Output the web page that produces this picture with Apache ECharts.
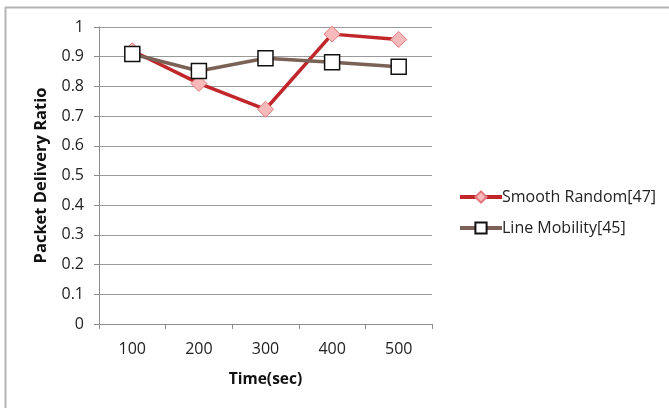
<!DOCTYPE html>
<html><head><meta charset="utf-8">
<script src="https://cdn.jsdelivr.net/npm/echarts@6/dist/echarts.min.js"></script>
<style>html,body{margin:0;padding:0;background:#fff}#c{width:669px;height:408px}</style>
</head><body><div id="c"></div>
<script>
const categories = ['100','200','300','400','500'];
const smoothRandom = [0.92, 0.81, 0.723, 0.976, 0.958];
const lineMobility = [0.909, 0.852, 0.895, 0.881, 0.866];
const seriesNames = ['Smooth Random[47]', 'Line Mobility[45]'];

const chart = echarts.init(document.getElementById('c'));
const font = '"Open Sans", "DejaVu Sans", sans-serif';
chart.setOption({
  animation: false,
  backgroundColor: '#fff',
  grid: {left: 99, right: 237, top: 27, bottom: 84},
  graphic: [
    {type: 'line', shape: {x1: 5, y1: 7.5, x2: 669, y2: 7.5}, style: {stroke: '#b4b4b4', lineWidth: 2}},
    {type: 'line', shape: {x1: 5.5, y1: 7, x2: 5.5, y2: 408}, style: {stroke: '#b4b4b4', lineWidth: 2}}
  ],
  legend: {
    orient: 'vertical', left: 453, top: 184, itemGap: 15, itemWidth: 42, itemHeight: 14,
    textStyle: {fontFamily: font, fontSize: 16, color: '#222', padding: [0,0,0,-5]},
    lineStyle: {width: 4},
    data: seriesNames
  },
  xAxis: {
    type: 'category', data: categories, boundaryGap: true,
    name: 'Time(sec)', nameLocation: 'middle', nameGap: 48,
    nameTextStyle: {fontFamily: font, fontSize: 15.5, fontWeight: 'bold', color: '#111'},
    axisLine: {lineStyle: {color: '#8c8c8c', width: 1}},
    axisTick: {show: true, length: 5, lineStyle: {color: '#8c8c8c'}},
    axisLabel: {fontFamily: font, fontSize: 16, color: '#222', margin: 17}
  },
  yAxis: {
    type: 'value', min: 0, max: 1, interval: 0.1,
    name: 'Packet Delivery Ratio', nameLocation: 'middle', nameGap: 49,
    nameTextStyle: {fontFamily: font, fontSize: 16.5, fontWeight: 'bold', color: '#111'},
    axisLine: {show: true, lineStyle: {color: '#8c8c8c', width: 1}},
    axisTick: {show: true, length: 5, lineStyle: {color: '#8c8c8c'}},
    axisLabel: {fontFamily: font, fontSize: 16, color: '#222', margin: 15,
      formatter: v => String(Math.round(v*10)/10)},
    splitLine: {lineStyle: {color: '#9a9a9a', width: 1}}
  },
  series: [
    {name: seriesNames[0], type: 'line', data: smoothRandom,
     lineStyle: {color: '#c0262a', width: 3.5}, itemStyle: {color: '#f8b9bb', borderColor: '#e0787c', borderWidth: 1},
     symbol: 'diamond', symbolSize: 16, z: 2},
    {name: seriesNames[1], type: 'line', data: lineMobility,
     lineStyle: {color: '#7a6257', width: 3.5}, itemStyle: {color: '#fff', borderColor: '#111', borderWidth: 1.5},
     symbol: 'rect', symbolSize: 15, z: 3}
  ]
});
</script></body></html>
